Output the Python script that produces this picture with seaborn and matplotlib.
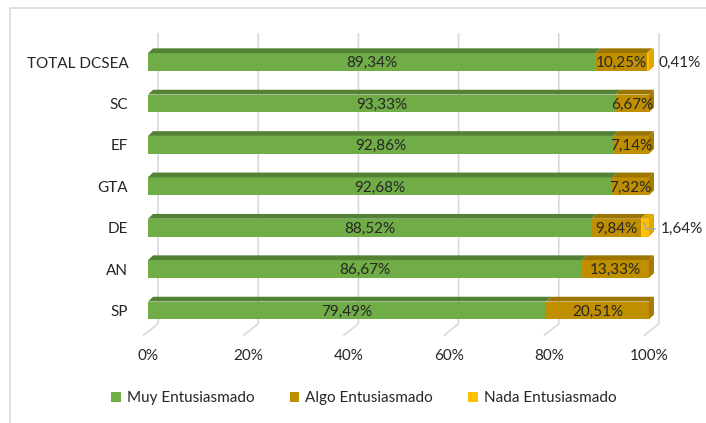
import matplotlib
matplotlib.use("Agg")
import matplotlib.pyplot as plt
import seaborn as sns
import pandas as pd
import numpy as np
from matplotlib.patches import Polygon, Rectangle, Patch

# ---------------- data ----------------
categories = ["TOTAL DCSEA", "SC", "EF", "GTA", "DE", "AN", "SP"]
muy = [89.34, 93.33, 92.86, 92.68, 88.52, 86.67, 79.49]
algo = [10.25, 6.67, 7.14, 7.32, 9.84, 13.33, 20.51]
nada = [0.41, 0.0, 0.0, 0.0, 1.64, 0.0, 0.0]
series_names = ["Muy Entusiasmado", "Algo Entusiasmado", "Nada Entusiasmado"]
xticks = [0, 20, 40, 60, 80, 100]
xtick_labels = ["0%", "20%", "40%", "60%", "80%", "100%"]

# ---------------- style ----------------
front = ["#70AD47", "#BF8F00", "#FFC000"]
top = ["#548235", "#9C7500", "#D9A300"]
side = ["#5E9239", "#A67C00", "#E0A800"]
grid_col = "#D9D9D9"
text_col = "#262626"

sns.set_theme(style="white")
plt.rcParams["font.family"] = ["Lato", "DejaVu Sans"]
FS = 11

W, H = 706, 423
fig = plt.figure(figsize=(W / 100, H / 100), dpi=100)
ax = fig.add_axes([138 / W, (H - 336) / H, 531 / W, 306 / H])

df = pd.DataFrame({"cat": categories, "muy": muy, "algo": algo, "nada": nada})
df["c2"] = df["muy"] + df["algo"]
df["c3"] = df["c2"] + df["nada"]

BW = 0.43
# stacked front faces (draw cumulative totals back to front)
for col, c in [("c3", front[2]), ("c2", front[1]), ("muy", front[0])]:
    sns.barplot(data=df, y="cat", x=col, order=categories, color=c,
                width=BW, saturation=1, ax=ax, linewidth=0, zorder=3)

ax.set_xlim(-2, 104)
ax.set_ylim(6.618, -0.773)

# 3D depth (in data units)
dx, dy = 1.0, -0.115

# back-wall gridlines and floor diagonals
back_dx = 2.0
for t in xticks:
    ax.plot([t + back_dx, t + back_dx, t - 1.0], [-0.70, 6.32, 6.61],
            color=grid_col, lw=1.2, zorder=1, solid_capstyle="butt")

fmt = lambda v: f"{v:.2f}".replace(".", ",") + "%"
for i, cat in enumerate(categories):
    vals = [muy[i], algo[i], nada[i]]
    yt = i - BW / 2
    yb = i + BW / 2
    left = 0.0
    segs = []
    for k, v in enumerate(vals):
        if v > 0:
            segs.append((left, left + v, k))
        left += v
    for a, b, k in segs:
        ax.add_patch(Polygon([(a, yt), (b, yt), (b + dx, yt + dy), (a + dx, yt + dy)],
                             closed=True, facecolor=top[k], edgecolor="none", zorder=4))
    a, b, k = segs[-1]
    ax.add_patch(Polygon([(b, yt), (b + dx, yt + dy), (b + dx, yb + dy), (b, yb)],
                         closed=True, facecolor=side[k], edgecolor="none", zorder=4))

    # labels
    ax.text(muy[i] / 2, i + 0.03, fmt(muy[i]), ha="center", va="center",
            fontsize=FS, color=text_col, zorder=6)
    ax.text(muy[i] + algo[i] / 2, i + 0.03, fmt(algo[i]), ha="center", va="center",
            fontsize=FS, color=text_col, zorder=6)
    if nada[i] > 0:
        end = muy[i] + algo[i] + nada[i]
        if nada[i] > 1:
            mid = muy[i] + algo[i] + nada[i] / 2
            ax.plot([mid - 0.2, mid + 0.2, end + 1.2], [i - 0.12, i + 0.03, i + 0.03],
                    color="#A6A6A6", lw=1.2, zorder=7, clip_on=False)
            ax.text(end + 2.4, i + 0.03, fmt(nada[i]), ha="left", va="center",
                    fontsize=FS, color=text_col, zorder=6, clip_on=False)
        else:
            ax.text(end + 2.0, i + 0.03, fmt(nada[i]), ha="left", va="center",
                    fontsize=FS, color=text_col, zorder=6, clip_on=False)

# axes cosmetics
for s in ax.spines.values():
    s.set_visible(False)
ax.set_xlabel("")
ax.set_ylabel("")
ax.set_xticks(xticks)
ax.set_xticklabels(xtick_labels)
ax.tick_params(axis="x", length=0, pad=9, labelsize=FS, labelcolor=text_col)
ax.tick_params(axis="y", length=0, pad=7, labelsize=FS, labelcolor=text_col)
ax.grid(False)
ax.patch.set_alpha(0)

# legend
handles = [Patch(facecolor=front[k], edgecolor="none", label=series_names[k]) for k in range(3)]
fig.legend(handles=handles, loc="center", bbox_to_anchor=(364 / W, 1 - 398 / H),
           ncol=3, frameon=False, fontsize=FS, handlelength=0.62, handleheight=0.62,
           handletextpad=0.4, columnspacing=2.3, labelcolor=text_col)

# chart-area border
fig.patches.append(Rectangle((10 / W, -0.05), 1.0, (H - 8) / H + 0.05,
                             transform=fig.transFigure, facecolor="none",
                             edgecolor="#D9D9D9", lw=1.2, zorder=0))

fig.savefig("out.png", dpi=100)
